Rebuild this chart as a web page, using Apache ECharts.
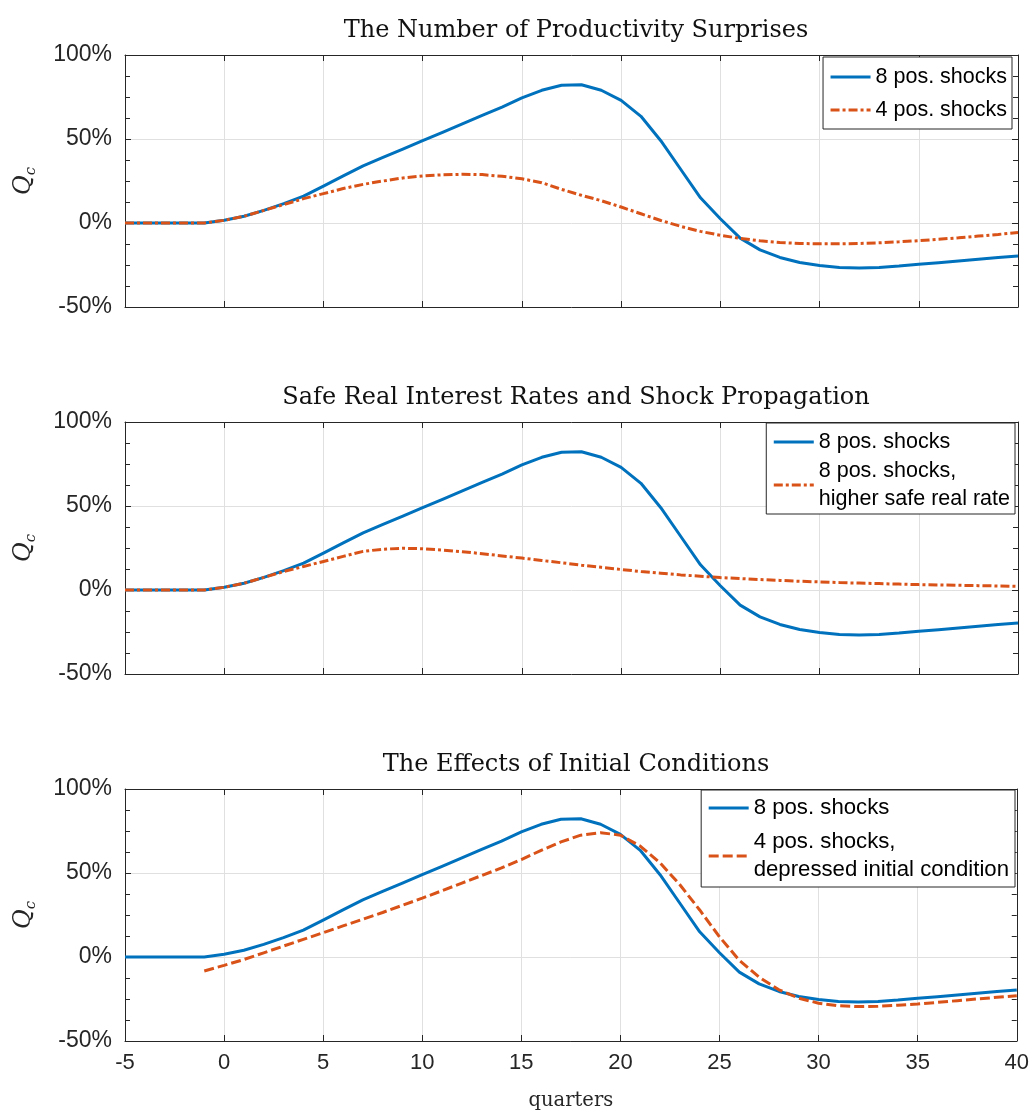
<!DOCTYPE html>
<html><head><meta charset="utf-8">
<script src="https://cdn.jsdelivr.net/npm/echarts@6/dist/echarts.min.js"></script>
<style>html,body{margin:0;padding:0;background:#fff}#c{width:1032px;height:1117px}</style>
</head><body><div id="c"></div>
<script>
// quarters -5 .. 40
const quarters = [-5,-4,-3,-2,-1,0,1,2,3,4,5,6,7,8,9,10,11,12,13,14,15,16,17,18,19,20,21,22,23,24,25,26,27,28,29,30,31,32,33,34,35,36,37,38,39,40];

const shocks8 = [0,0,0,0,0,1.6,4,7.5,11.5,16,22,28,34,39,44,49,54,59,64,69,74.5,79,82,82.3,79,73,63.5,49,32,15,2.5,-9,-16,-20.5,-23.5,-25.3,-26.5,-26.8,-26.5,-25.6,-24.6,-23.6,-22.6,-21.6,-20.6,-19.6];

const shocks4 = [0,0,0,0,0,1.6,4,7.5,11,14.5,17.5,20.5,23,25,26.8,28,28.7,29,28.8,27.8,26.3,24,20,16.5,13.3,9.5,5.5,1.5,-2,-5,-7.3,-9.2,-10.6,-11.6,-12.2,-12.4,-12.4,-12.2,-11.8,-11.2,-10.5,-9.7,-8.8,-7.8,-6.8,-5.7];

const shocks8HighRate = [0,0,0,0,0,1.6,4,7.5,11,14,17,20,23,24.3,24.8,24.6,23.8,22.8,21.6,20.3,19,17.6,16.2,14.8,13.5,12.2,11,10,9,8.2,7.4,6.8,6.2,5.7,5.2,4.8,4.4,4.1,3.8,3.5,3.2,3.0,2.8,2.6,2.4,2.2];

const shocks4Depressed = [null,null,null,null,-8.3,-5,-1.5,2.5,6.5,10.5,14.5,18.5,22.5,26.5,30.8,35,39.5,44,48.5,53,58,63.5,68.5,72.5,74,72.5,66,56,43,28,12,-2,-12,-19.5,-24.5,-27.5,-29,-29.5,-29.3,-28.7,-28,-27,-26,-25,-24,-23];

const panelTitles = ['The Number of Productivity Surprises','Safe Real Interest Rates and Shock Propagation','The Effects of Initial Conditions'];
const panelNames = [
  ['8 pos. shocks','4 pos. shocks'],
  ['8 pos. shocks','8 pos. shocks,\nhigher safe real rate'],
  ['8 pos. shocks','4 pos. shocks,\ndepressed initial condition']
];
const panelSecond = [shocks4, shocks8HighRate, shocks4Depressed];
const secondDash = [[9,3,3,3],[9,3,3,3],[10,4]];
const xTicks = {min:-5, max:40, step:5};
const yTicks = {min:-50, max:100, step:50};
const xLabel = 'quarters';

const BLUE = '#0072BD', ORANGE = '#D95319', AX = '#262626', GRID = '#e0e0e0';
const tops = [55, 422, 789];
const H = 252;

const pairs = arr => quarters.map((q,i)=>[q, arr[i]]);

const grids = [], xAxes = [], yAxes = [], series = [], titles = [], legends = [];
const legendLayout = [
  {right:20, top:57, itemGap:5, padding:[6,5,5,6], fs:21.5},
  {right:17, top:423, itemGap:1, padding:[5,5,1,6], fs:21.5},
  {right:17, top:790, itemGap:6, padding:[4,6,3,6], fs:22.2}
];

tops.forEach((t,i)=>{
  grids.push({left:125, right:14, top:t, height:H, show:false});
  const last = i === 2;
  xAxes.push({
    type:'value', gridIndex:i, position:'bottom', min:xTicks.min, max:xTicks.max, interval:xTicks.step,
    axisLine:{show:true, onZero:false, lineStyle:{color:AX, width:1}},
    axisTick:{show:true, inside:true, length:6, lineStyle:{color:AX}},
    axisLabel:{show:last, color:AX, fontSize:22, margin:11, fontFamily:'Liberation Sans, Arial'},
    splitLine:{show:true, lineStyle:{color:GRID, width:1}},
    name: last ? xLabel : '', nameLocation:'middle', nameGap:50,
    nameTextStyle:{fontFamily:'DejaVu Serif', fontSize:19.5, color:AX}
  });
  xAxes.push({
    type:'value', gridIndex:i, position:'top', min:xTicks.min, max:xTicks.max, interval:xTicks.step,
    axisLine:{show:true, onZero:false, lineStyle:{color:AX, width:1}},
    axisTick:{show:true, inside:true, length:6, lineStyle:{color:AX}},
    axisLabel:{show:false}, splitLine:{show:false}
  });
  yAxes.push({
    type:'value', gridIndex:i, position:'left', min:yTicks.min, max:yTicks.max, interval:yTicks.step,
    axisLine:{show:true, onZero:false, lineStyle:{color:AX, width:1}},
    axisTick:{show:true, inside:true, length:6, lineStyle:{color:AX}},
    minorTick:{show:true, splitNumber:4, length:5, lineStyle:{color:AX}},
    axisLabel:{color:AX, fontSize:23, margin:13, formatter:'{value}%', fontFamily:'Liberation Sans, Arial'},
    splitLine:{show:true, lineStyle:{color:GRID, width:1}},
    name:'{q|Q}{s|c}', nameLocation:'middle', nameRotate:90, nameGap:86,
    nameTextStyle:{rich:{
      q:{fontFamily:'DejaVu Serif', fontStyle:'italic', fontSize:24, color:AX, lineHeight:30},
      s:{fontFamily:'DejaVu Serif', fontStyle:'italic', fontSize:15, color:AX, verticalAlign:'bottom', lineHeight:30}
    }}
  });
  yAxes.push({
    type:'value', gridIndex:i, position:'right', min:yTicks.min, max:yTicks.max, interval:yTicks.step,
    axisLine:{show:true, onZero:false, lineStyle:{color:AX, width:1}},
    axisTick:{show:true, inside:true, length:6, lineStyle:{color:AX}},
    minorTick:{show:true, splitNumber:4, length:5, lineStyle:{color:AX}},
    axisLabel:{show:false}, splitLine:{show:false}
  });
  series.push({
    type:'line', name:panelNames[i][0], xAxisIndex:2*i, yAxisIndex:2*i, data:pairs(shocks8),
    symbol:'none', smooth:false, lineStyle:{color:BLUE, width:3}, itemStyle:{color:BLUE}, z:3
  });
  series.push({
    type:'line', name:panelNames[i][1], xAxisIndex:2*i, yAxisIndex:2*i, data:pairs(panelSecond[i]),
    symbol:'none', smooth:false, connectNulls:false,
    lineStyle:{color:ORANGE, width:3, type:secondDash[i]}, itemStyle:{color:ORANGE}, z:4
  });
  titles.push({
    text:panelTitles[i], left:571, top:t-41, textAlign:'center',
    textStyle:{fontFamily:'DejaVu Serif', fontWeight:'normal', fontSize:24, color:'#111'}
  });
  const L = legendLayout[i];
  legends.push({
    data:panelNames[i], orient:'vertical', itemWidth:40, itemHeight:14,
    right:L.right, top:L.top, itemGap:L.itemGap, padding:L.padding,
    backgroundColor:'#fff', borderColor:AX, borderWidth:1, borderRadius:0,
    selectedMode:false, itemStyle:{opacity:0, borderWidth:0},
    lineStyle:{width:3},
    textStyle:{fontSize:L.fs, color:'#000', fontFamily:'Liberation Sans, Arial', lineHeight:28}
  });
});

const chart = echarts.init(document.getElementById('c'), null, {renderer:'canvas'});
chart.setOption({
  animation:false, backgroundColor:'#fff',
  title:titles, legend:legends, grid:grids, xAxis:xAxes, yAxis:yAxes, series:series
});
</script></body></html>
